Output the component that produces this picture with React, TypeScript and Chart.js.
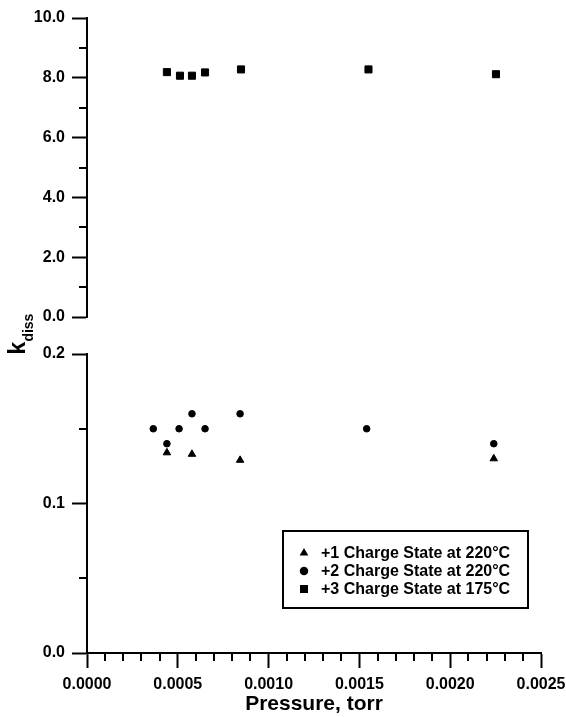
import React, { useEffect, useRef } from 'react';
import { Chart, registerables } from 'chart.js';

Chart.register(...registerables);

const FONT = "'Liberation Sans', Arial, Helvetica, sans-serif";

// ---- data ----
const label1 = '+1 Charge State at 220°C';
const pressure1 = [0.00044, 0.000578, 0.000843, 0.00224];
const kdiss1 = [0.134, 0.133, 0.129, 0.130];

const label2 = '+2 Charge State at 220°C';
const pressure2 = [0.000365, 0.00044, 0.000507, 0.000578, 0.00065, 0.000843, 0.00154, 0.00224];
const kdiss2 = [0.15, 0.14, 0.15, 0.16, 0.15, 0.16, 0.15, 0.14];

const label3 = '+3 Charge State at 175°C';
const pressure3 = [0.00044, 0.000512, 0.000578, 0.00065, 0.000848, 0.00155, 0.002252];
const kdiss3 = [8.19, 8.07, 8.07, 8.18, 8.28, 8.28, 8.12];

// ---- axes ----
const xTitle = 'Pressure, torr';
const yTitleMain = 'k';
const yTitleSub = 'diss';
const xMin = 0, xMax = 0.0025, xMajorStep = 0.0005, xMinorStep = 0.0001;
const topMin = 0, topMax = 10, topMajorStep = 2, topMinorStep = 1;
const botMin = 0, botMax = 0.2, botMajorStep = 0.1, botMinorStep = 0.05;

function minorValues(min: number, max: number, minor: number, major: number): number[] {
  const out: number[] = [];
  const n = Math.round((max - min) / minor);
  for (let i = 0; i <= n; i++) {
    const v = min + i * minor;
    const r = (v - min) / major;
    if (Math.abs(r - Math.round(r)) > 1e-6) out.push(v);
  }
  return out;
}

function makeMinorPlugin(xVals: number[] | null, yVals: number[], len: number) {
  return {
    id: 'minorTicks',
    afterDraw(chart: any) {
      const ctx = chart.ctx;
      ctx.save();
      ctx.strokeStyle = '#000';
      ctx.lineWidth = 2;
      ctx.beginPath();
      if (xVals) {
        const xs = chart.scales.x;
        for (const v of xVals) {
          const px = Math.round(xs.getPixelForValue(v));
          ctx.moveTo(px, xs.top);
          ctx.lineTo(px, xs.top + len);
        }
      }
      const ys = chart.scales.y;
      for (const v of yVals) {
        const py = Math.round(ys.getPixelForValue(v));
        ctx.moveTo(ys.right, py);
        ctx.lineTo(ys.right - len, py);
      }
      ctx.stroke();
      ctx.restore();
    },
  };
}

function drawMarker(ctx: CanvasRenderingContext2D, style: string, x: number, y: number, r: number) {
  ctx.beginPath();
  if (style === 'triangle') {
    ctx.moveTo(x, y - r);
    ctx.lineTo(x + r * 0.866, y + r / 2);
    ctx.lineTo(x - r * 0.866, y + r / 2);
    ctx.closePath();
  } else if (style === 'circle') {
    ctx.arc(x, y, r * 0.85, 0, Math.PI * 2);
  } else {
    const s = r * 0.8;
    ctx.rect(x - s, y - s, 2 * s, 2 * s);
  }
  ctx.fill();
}

function makeLegendPlugin(items: { label: string; style: string }[]) {
  return {
    id: 'boxLegend',
    afterDraw(chart: any) {
      const ctx = chart.ctx;
      const ca = chart.chartArea;
      const left = ca.right - 258;
      const top = ca.top + 177;
      const w = 245;
      const h = 77;
      ctx.save();
      ctx.strokeStyle = '#000';
      ctx.lineWidth = 2;
      ctx.strokeRect(left, top, w, h);
      ctx.fillStyle = '#000';
      ctx.font = `bold 16px ${FONT}`;
      ctx.textBaseline = 'middle';
      ctx.textAlign = 'left';
      items.forEach((it, i) => {
        const y = top + 22 + i * 18;
        drawMarker(ctx, it.style, left + 21, y, 5);
        ctx.fillText(it.label, left + 38, y + 1);
      });
      // y-axis title spanning both panels
      ctx.translate(25, 334);
      ctx.rotate(-Math.PI / 2);
      ctx.textBaseline = 'alphabetic';
      ctx.font = `bold 23px ${FONT}`;
      const kw = ctx.measureText(yTitleMain).width;
      ctx.font = `bold 14px ${FONT}`;
      const dw = ctx.measureText(yTitleSub).width;
      const start = -(kw + dw) / 2;
      ctx.font = `bold 23px ${FONT}`;
      ctx.fillText(yTitleMain, start, 0);
      ctx.font = `bold 14px ${FONT}`;
      ctx.fillText(yTitleSub, start + kw, 8);
      ctx.restore();
    },
  };
}

const tickFont = { family: FONT, size: 16, weight: 'bold' as const };

function yScale(min: number, max: number, step: number) {
  return {
    type: 'linear' as const,
    min,
    max,
    ticks: {
      stepSize: step,
      color: '#000',
      font: tickFont,
      padding: 7,
      callback: (v: any) => Number(v).toFixed(1),
    },
    grid: {
      drawOnChartArea: false,
      drawTicks: true,
      tickLength: 15,
      tickWidth: 2,
      tickColor: '#000',
    },
    border: { display: true, color: '#000', width: 2 },
    afterFit: (s: any) => {
      s.width = 87;
    },
  };
}

export default function App() {
  const topRef = useRef<HTMLCanvasElement>(null);
  const botRef = useRef<HTMLCanvasElement>(null);

  useEffect(() => {
    const topChart = new Chart(topRef.current!, {
      type: 'scatter',
      data: {
        datasets: [
          {
            label: label3,
            data: pressure3.map((x, i) => ({ x, y: kdiss3[i] })),
            pointStyle: 'rect',
            pointRadius: 5,
            backgroundColor: '#000',
            borderColor: '#000',
            borderWidth: 1,
          },
        ],
      },
      options: {
        animation: false,
        responsive: false,
        devicePixelRatio: 1,
        layout: { padding: { left: 0, top: 18, right: 25, bottom: 400 } },
        plugins: { legend: { display: false }, tooltip: { enabled: false } },
        scales: {
          x: { type: 'linear', min: xMin, max: xMax, display: false },
          y: yScale(topMin, topMax, topMajorStep) as any,
        },
      },
      plugins: [makeMinorPlugin(null, minorValues(topMin, topMax, topMinorStep, topMajorStep), 8)],
    } as any);

    const botChart = new Chart(botRef.current!, {
      type: 'scatter',
      data: {
        datasets: [
          {
            label: label1,
            data: pressure1.map((x, i) => ({ x, y: kdiss1[i] })),
            pointStyle: 'triangle',
            pointRadius: 4.3,
            backgroundColor: '#000',
            borderColor: '#000',
            borderWidth: 1,
          },
          {
            label: label2,
            data: pressure2.map((x, i) => ({ x, y: kdiss2[i] })),
            pointStyle: 'circle',
            pointRadius: 3.3,
            backgroundColor: '#000',
            borderColor: '#000',
            borderWidth: 1,
          },
        ],
      },
      options: {
        animation: false,
        responsive: false,
        devicePixelRatio: 1,
        layout: { padding: { left: 0, top: 354, right: 25, bottom: 0 } },
        plugins: { legend: { display: false }, tooltip: { enabled: false } },
        scales: {
          x: {
            type: 'linear',
            min: xMin,
            max: xMax,
            ticks: {
              stepSize: xMajorStep,
              color: '#000',
              font: tickFont,
              padding: 7,
              maxRotation: 0,
              autoSkip: false,
              callback: (v: any) => Number(v).toFixed(4),
            },
            grid: {
              drawOnChartArea: false,
              drawTicks: true,
              tickLength: 15,
              tickWidth: 2,
              tickColor: '#000',
            },
            border: { display: true, color: '#000', width: 2 },
            title: {
              display: true,
              text: xTitle,
              color: '#000',
              font: { family: FONT, size: 21, weight: 'bold' },
              padding: { top: 0, bottom: 0 },
            },
            afterFit: (s: any) => {
              s.height = 64;
              s.paddingLeft = 0;
              s.paddingRight = 0;
            },
          },
          y: yScale(botMin, botMax, botMajorStep) as any,
        },
      },
      plugins: [
        makeMinorPlugin(
          minorValues(xMin, xMax, xMinorStep, xMajorStep),
          minorValues(botMin, botMax, botMinorStep, botMajorStep),
          8
        ),
        makeLegendPlugin([
          { label: label1, style: 'triangle' },
          { label: label2, style: 'circle' },
          { label: label3, style: 'rect' },
        ]),
      ],
    } as any);

    return () => {
      topChart.destroy();
      botChart.destroy();
    };
  }, []);

  const canvasStyle: React.CSSProperties = {
    position: 'absolute',
    left: 0,
    top: 0,
    width: 566,
    height: 717,
  };

  return (
    <div style={{ position: 'absolute', left: 0, top: 0, width: 566, height: 717, background: '#fff' }}>
      <canvas ref={topRef} width={566} height={717} style={canvasStyle} />
      <canvas ref={botRef} width={566} height={717} style={canvasStyle} />
    </div>
  );
}
